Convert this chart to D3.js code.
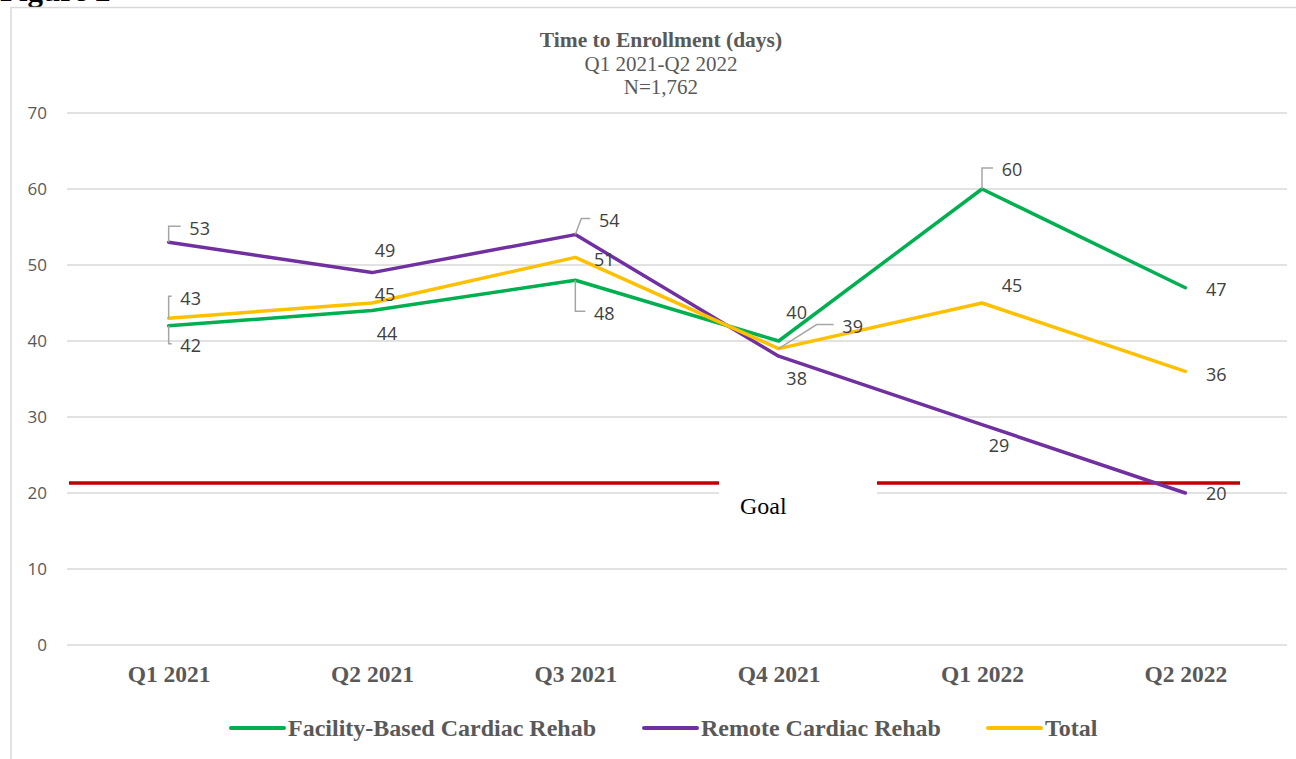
<!DOCTYPE html>
<html>
<head>
<meta charset="utf-8">
<script src="https://cdn.jsdelivr.net/npm/d3@7"></script>
<style>
  body { margin: 0; background: #fff; }
  svg { display: block; }
</style>
</head>
<body>
<div id="chart"></div>
<script>
var categories = ["Q1 2021", "Q2 2021", "Q3 2021", "Q4 2021", "Q1 2022", "Q2 2022"];
var facility = [42, 44, 48, 40, 60, 47];
var remote = [53, 49, 54, 38, 29, 20];
var total = [43, 45, 51, 39, 45, 36];
var yTicks = [0, 10, 20, 30, 40, 50, 60, 70];
var goal = 21.3;

var w = 1296,
    h = 759;

// label placement, offsets from the point (dx, dy), leader elbow x offset (null = none)
var facilityLabels = [[22, 20, 0], [15, 23, null], [29, 33, 0], [18, -28, null], [30, -19, 0], [31, 2, null]];
var remoteLabels = [[31, -14, 0], [13, -22, null], [34, -14, 6], [18, 22, null], [17, 21, null], [31, 1, null]];
var totalLabels = [[22, -20, 0], [13, -8, null], [29, 2, null], [74, -22, 38], [30, -17, null], [31, 3, null]];

var series = [
  { name: "Facility-Based Cardiac Rehab", values: facility, color: "#00B050", labels: facilityLabels },
  { name: "Remote Cardiac Rehab", values: remote, color: "#7030A0", labels: remoteLabels },
  { name: "Total", values: total, color: "#FFC000", labels: totalLabels }
];

var svg = d3.select("#chart").append("svg")
  .attr("width", w)
  .attr("height", h);

// "Figure 2" caption, mostly cut off at the top
svg.append("text")
  .attr("x", 0)
  .attr("y", 1)
  .style("font-family", "'Liberation Serif', 'Times New Roman', serif")
  .style("font-weight", "bold")
  .style("font-size", "31px")
  .text("Figure 2");

// chart frame
svg.append("rect")
  .attr("x", 11)
  .attr("y", 7.5)
  .attr("width", 1400)
  .attr("height", 900)
  .attr("fill", "#fff")
  .attr("stroke", "#d9d9d9")
  .attr("stroke-width", 1.5);

var x = d3.scalePoint()
  .domain(categories)
  .range([67, 1287])
  .padding(0.5);

var y = d3.scaleLinear()
  .domain([0, 70])
  .range([645, 113]);

// gridlines
svg.append("g").selectAll("line")
  .data(yTicks)
  .enter().append("line")
  .attr("x1", 67)
  .attr("x2", 1287)
  .attr("y1", function(d) { return y(d); })
  .attr("y2", function(d) { return y(d); })
  .attr("stroke", "#d9d9d9")
  .attr("stroke-width", 1.5);

// y axis labels
var yAxis = svg.append("g")
  .attr("transform", "translate(56,0)")
  .call(d3.axisLeft(y).tickValues(yTicks).tickSize(0).tickPadding(9));
yAxis.select(".domain").remove();
yAxis.selectAll("text")
  .style("font-family", "'Open Sans', 'Noto Sans', sans-serif")
  .style("font-size", "17px")
  .attr("fill", "#595959");

// x axis labels
var xAxis = svg.append("g")
  .attr("transform", "translate(0,645)")
  .call(d3.axisBottom(x).tickSize(0).tickPadding(20));
xAxis.select(".domain").remove();
xAxis.selectAll("text")
  .style("font-family", "'Liberation Serif', 'Times New Roman', serif")
  .style("font-weight", "bold")
  .style("font-size", "23.5px")
  .attr("fill", "#595959");

// goal line
svg.append("line")
  .attr("x1", 69)
  .attr("x2", 1240)
  .attr("y1", y(goal))
  .attr("y2", y(goal))
  .attr("stroke", "#C00000")
  .attr("stroke-width", 3.5);

// lines
var line = d3.line()
  .x(function(d, i) { return x(categories[i]); })
  .y(function(d) { return y(d); });

svg.append("g").selectAll("path")
  .data(series)
  .enter().append("path")
  .attr("d", function(d) { return line(d.values); })
  .attr("fill", "none")
  .attr("stroke", function(d) { return d.color; })
  .attr("stroke-width", 3.5)
  .attr("stroke-linejoin", "round")
  .attr("stroke-linecap", "round");

// goal text box on top
svg.append("rect")
  .attr("x", 719)
  .attr("y", y(goal) - 5)
  .attr("width", 158)
  .attr("height", 50)
  .attr("fill", "#fff");

svg.append("text")
  .attr("x", 740)
  .attr("y", 514)
  .style("font-family", "'Liberation Serif', 'Times New Roman', serif")
  .style("font-size", "24px")
  .attr("fill", "#000")
  .text("Goal");

// data labels and leader lines
series.forEach(function(s) {
  s.values.forEach(function(v, i) {
    var px = x(categories[i]),
        py = y(v),
        lab = s.labels[i],
        lx = px + lab[0],
        ly = py + lab[1];
    if (lab[2] !== null) {
      svg.append("path")
        .attr("d", "M" + px + "," + py + " L" + (px + lab[2]) + "," + (ly - 2) + " L" + (lx - 19) + "," + (ly - 2))
        .attr("fill", "none")
        .attr("stroke", "#a6a6a6")
        .attr("stroke-width", 1.5);
    }
    svg.append("text")
      .attr("x", lx)
      .attr("y", ly)
      .attr("dy", "0.35em")
      .attr("text-anchor", "middle")
      .style("font-family", "'Open Sans', 'Noto Sans', sans-serif")
      .style("font-size", "18px")
      .attr("fill", "#404040")
      .text(v);
  });
});

// title
var title = svg.append("text")
  .attr("text-anchor", "middle")
  .style("font-family", "'Liberation Serif', 'Times New Roman', serif")
  .attr("fill", "#595959");
title.append("tspan").attr("x", 661).attr("y", 47)
  .style("font-weight", "bold").style("font-size", "21.5px")
  .text("Time to Enrollment (days)");
title.append("tspan").attr("x", 661).attr("y", 71)
  .style("font-size", "21px")
  .text("Q1 2021-Q2 2022");
title.append("tspan").attr("x", 661).attr("y", 94)
  .style("font-size", "21px")
  .text("N=1,762");

// legend
var legendX = [231, 644, 988];
var legend = svg.append("g").selectAll("g")
  .data(series)
  .enter().append("g")
  .attr("transform", function(d, i) { return "translate(" + legendX[i] + ",728)"; });

legend.append("line")
  .attr("x1", 0)
  .attr("x2", 53)
  .attr("stroke", function(d) { return d.color; })
  .attr("stroke-width", 4)
  .attr("stroke-linecap", "round");

legend.append("text")
  .attr("x", 57)
  .attr("y", 8)
  .style("font-family", "'Liberation Serif', 'Times New Roman', serif")
  .style("font-weight", "bold")
  .style("font-size", "24px")
  .attr("fill", "#595959")
  .text(function(d) { return d.name; });
</script>
</body>
</html>
